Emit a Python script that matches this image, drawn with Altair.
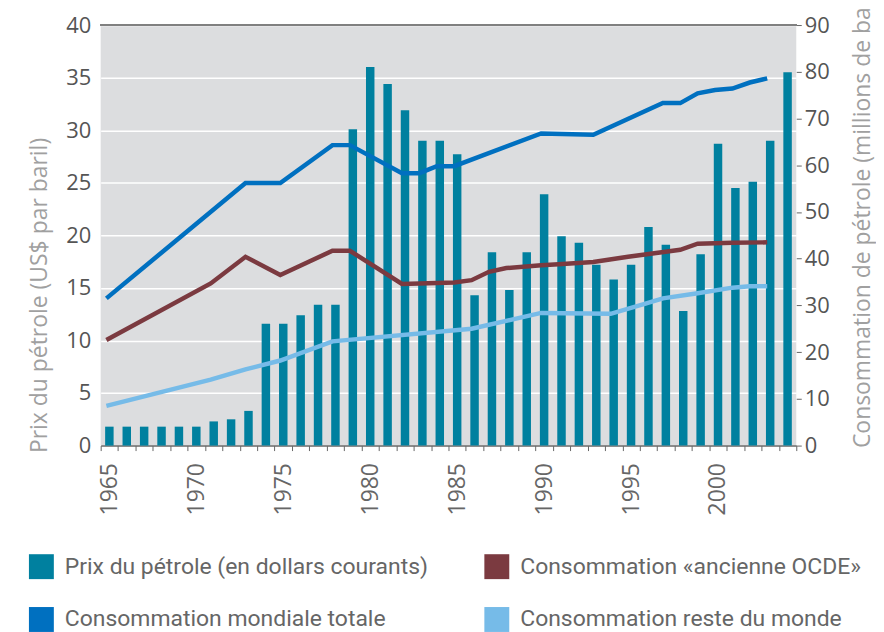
import altair as alt
import pandas as pd

# ---- data ----
years = list(range(1965, 2005))
price = [1.8, 1.8, 1.8, 1.8, 1.8, 1.8, 2.3, 2.5, 3.3, 11.6,
         11.6, 12.4, 13.4, 13.4, 30.1, 36.0, 34.4, 31.9, 29.0, 29.0,
         27.7, 14.3, 18.4, 14.8, 18.4, 23.9, 19.9, 19.3, 17.2, 15.8,
         17.2, 20.8, 19.1, 12.8, 18.2, 28.7, 24.5, 25.1, 29.0, 35.5]

world_years = [1965, 1973, 1975, 1978, 1979, 1982, 1983, 1984, 1985, 1990,
               1993, 1997, 1998, 1999, 2000, 2001, 2002, 2003]
world_vals = [31.5, 56.2, 56.2, 64.3, 64.3, 58.3, 58.3, 59.8, 59.8, 66.8,
              66.5, 73.3, 73.3, 75.4, 76.1, 76.4, 77.7, 78.6]

oecd_years = [1965, 1971, 1973, 1975, 1978, 1979, 1982, 1985, 1986, 1987,
              1988, 1990, 1991, 1993, 1995, 1998, 1999, 2001, 2003]
oecd_vals = [22.6, 34.7, 40.4, 36.5, 41.7, 41.7, 34.6, 34.9, 35.4, 37.2,
             38.0, 38.6, 38.8, 39.3, 40.4, 41.9, 43.2, 43.4, 43.5]

row_years = [1965, 1971, 1973, 1975, 1978, 1986, 1990, 1994, 1996, 1997,
             1999, 2001, 2002, 2003]
row_vals = [8.5, 14.1, 16.3, 18.2, 22.3, 25.0, 28.4, 28.2, 30.4, 31.5,
            32.6, 33.8, 34.1, 34.1]

# legend order (filled column by column: col 1 = first two, col 2 = last two)
series_names = ["Prix du pétrole (en dollars courants)",
                "Consommation mondiale totale",
                "Consommation «ancienne OCDE»",
                "Consommation reste du monde"]
series_colors = ["#00809f", "#0070c0", "#7b3a40", "#76bbe8"]

left_title = "Prix du pétrole (US$ par baril)"
right_title = "Consommation de pétrole (millions de barils)"

bars_df = pd.DataFrame({"year": years, "value": price, "series": series_names[0]})
world_df = pd.DataFrame({"year": world_years, "value": world_vals})
oecd_df = pd.DataFrame({"year": oecd_years, "value": oecd_vals})
row_df = pd.DataFrame({"year": row_years, "value": row_vals})

AX_FONT = "Open Sans"
LEG_FONT = "Roboto"

x_enc = alt.X(
    "year:O",
    scale=alt.Scale(domain=years, paddingInner=0, paddingOuter=0),
    axis=alt.Axis(
        title=None, tickBand="extent", tickSize=5, tickColor="#666",
        domainColor="#666", domainWidth=1.5,
        labelExpr="datum.value % 5 === 0 ? datum.label : ''",
        labelAngle=270, labelAlign="right", labelBaseline="middle",
        labelFontSize=23, labelFont=AX_FONT, labelColor="#666",
        labelPadding=12, grid=False,
    ),
)

bars = alt.Chart(bars_df).mark_bar(size=8.5).encode(
    x=x_enc,
    y=alt.Y(
        "value:Q",
        scale=alt.Scale(domain=[0, 40], nice=False),
        axis=alt.Axis(
            values=list(range(0, 41, 5)), grid=True, gridColor="white",
            gridWidth=1.5, domain=False, ticks=False, tickSize=0,
            labelPadding=10, labelFontSize=22, labelFont=AX_FONT,
            labelColor="#555",
            title=left_title, titleFont=AX_FONT, titleFontSize=23,
            titleFontWeight="normal", titleColor="#a0a0a0",
            titleAngle=270, titleAlign="left", titleBaseline="middle",
            titleAnchor="start", titleX=-61, titleY=429,
        ),
    ),
    color=alt.Color(
        "series:N",
        scale=alt.Scale(domain=series_names, range=series_colors),
        legend=alt.Legend(
            orient="none", legendX=-72, legendY=531, columns=2,
            symbolType="square", symbolSize=625, symbolStrokeWidth=0,
            labelFontSize=23, labelFont=LEG_FONT, labelColor="#666",
            columnPadding=56, rowPadding=28, title=None, labelOffset=11,
            labelLimit=0, padding=0,
        ),
    ),
)

top_rule = alt.Chart(bars_df).mark_rule(color="#808080", strokeWidth=1.5).encode(
    y=alt.datum(40)
)

right_axis = alt.Axis(
    orient="right", values=list(range(0, 91, 10)), grid=False, domain=False,
    tickSize=5, tickColor="#666", labelPadding=3, labelFontSize=22,
    labelFont=AX_FONT, labelColor="#555",
    title=right_title, titleFont=AX_FONT, titleFontSize=23,
    titleFontWeight="normal", titleColor="#a0a0a0",
    titleAngle=270, titleAlign="left", titleBaseline="middle",
    titleAnchor="start", titleX=66, titleY=424,
)
y_right = alt.Y("value:Q", scale=alt.Scale(domain=[0, 90], nice=False), axis=right_axis)


def line(df, color):
    return alt.Chart(df).mark_line(color=color, strokeWidth=4.5, xOffset=-3).encode(
        x=alt.X("year:O"),
        y=y_right,
    )


left = alt.layer(bars, top_rule)
right = alt.layer(
    line(world_df, "#0070c0"),
    line(oecd_df, "#7b3a40"),
    line(row_df, "#76bbe8"),
)

chart = alt.layer(left, right).resolve_scale(y="independent").properties(
    width=698, height=422,
    autosize=alt.AutoSizeParams(type="none"),
    padding={"left": 93, "top": 16, "right": 80, "bottom": 200},
    background="white",
).configure_view(fill="#dcdddf", stroke=None)

chart.save("out.html", embed_options={"renderer": "svg", "actions": False})
